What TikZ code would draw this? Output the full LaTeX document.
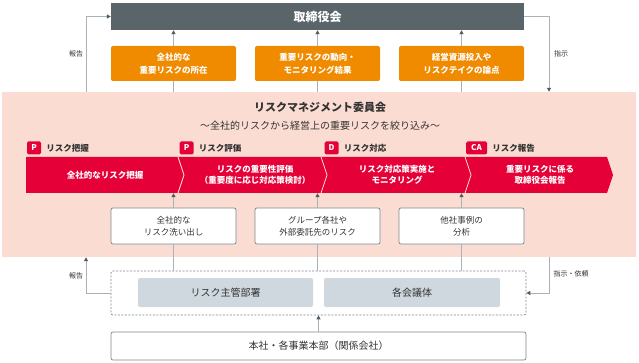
\documentclass[tikz,border=0pt]{standalone}
\usepackage{fontspec}
\setmainfont{Noto Sans CJK JP}
\usepackage{xcolor}
\usetikzlibrary{positioning, arrows.meta}

\definecolor{boardgray}{HTML}{5A6569}
\definecolor{riskorange}{HTML}{F08B00}
\definecolor{pinkbg}{HTML}{FBDCD2}
\definecolor{riskred}{HTML}{E50038}
\definecolor{deptgray}{HTML}{CED8DE}
\definecolor{linegray}{HTML}{A9B2B7}
\definecolor{tipgray}{HTML}{4F5B61}
\definecolor{boxline}{HTML}{7E878C}
\definecolor{txt}{HTML}{333333}

\begin{document}
\begin{tikzpicture}[x=1pt, y=-1pt,
  box/.style={rounded corners=2pt, minimum width=125pt, minimum height=35pt,
              align=center, inner sep=0pt, text=txt,
              font=\fontsize{8.5}{12}\selectfont},
  topic/.style={box, fill=riskorange, text=white,
                font=\fontsize{8.5}{13}\selectfont\bfseries},
  src/.style={box, draw=boxline, line width=0.7pt, fill=white, minimum height=36pt},
  dept/.style={rounded corners=2pt, fill=deptgray, minimum height=29pt,
               inner sep=0pt, text=txt, font=\fontsize{10}{12}\selectfont},
  badge/.style={rounded corners=1.5pt, fill=riskred, text=white, inner sep=0pt,
                minimum width=14pt, minimum height=13pt,
                font=\fontsize{8}{8}\selectfont\bfseries},
  phase/.style={text=txt, inner sep=0pt, font=\fontsize{8.5}{10}\selectfont\bfseries},
  stage/.style={text=white, align=center, inner sep=0pt, minimum height=36pt,
                font=\fontsize{8.5}{11}\selectfont\bfseries},
  note/.style={text=txt, inner sep=0pt, font=\fontsize{7}{8}\selectfont},
  ln/.style={draw=linegray, line width=1pt},
  arr/.style={ln, -{Triangle[length=4pt, width=4pt, color=tipgray]}}
]
  \useasboundingbox (0,0) rectangle (639,363);

  % committee background
  \node[fill=pinkbg, minimum width=634pt, minimum height=165pt, inner sep=0pt]
    (cmte) at (319,174.5) {};
  \node[text=txt, font=\fontsize{11}{12}\selectfont\bfseries] (title) at (320,107)
    {リスクマネジメント委員会};
  \node[text=txt, font=\fontsize{10}{12}\selectfont, below=2pt of title] (sub)
    {～全社的リスクから経営上の重要リスクを絞り込み～};

  % board and topics
  \node[fill=boardgray, text=white, minimum width=413pt, minimum height=27pt,
        inner sep=0pt, font=\fontsize{12}{12}\selectfont\bfseries]
    (board) at (317.5,16.5) {取締役会};
  \node[topic] (oa) at (173.5,63.5) {全社的な\\重要リスクの所在};
  \node[topic] (ob) at (317.5,63.5) {重要リスクの動向・\\モニタリング結果};
  \node[topic] (oc) at (461.5,63.5) {経営資源投入や\\リスクテイクの論点};

  % PDCA chevrons
  \foreach \a/\b [count=\i] in {26/178, 178/321, 321/465, 465/607} {
    \ifnum\i=1
      \fill[riskred] (\a,157) -- (\b,157) -- (\b+6,175) -- (\b,193) -- (\a,193) -- cycle;
    \else
      \fill[riskred] (\a,157) -- (\b,157) -- (\b+6,175) -- (\b,193) -- (\a,193)
        -- (\a+6,175) -- cycle;
      \draw[pinkbg, line width=0.8pt] (\a,157) -- (\a+6,175) -- (\a,193);
    \fi
  }
  \node[stage] (sa) at (105,175) {全社的なリスク把握};
  \node[stage] (sb) at (255,175) {リスクの重要性評価\\（重要度に応じ対応策検討）};
  \node[stage] (sc) at (397,175) {リスク対応策実施と\\モニタリング};
  \node[stage] (sd) at (540,175) {重要リスクに係る\\取締役会報告};

  \node[badge] (pa) at (34,148) {P};
  \node[phase, right=5pt of pa] {リスク把握};
  \node[badge] (pb) at (186.5,148) {P};
  \node[phase, right=5pt of pb] {リスク評価};
  \node[badge] (pc) at (331.5,148) {D};
  \node[phase, right=5pt of pc] {リスク対応};
  \node[badge, minimum width=21pt] (pd) at (476.5,148) {CA};
  \node[phase, right=5pt of pd] {リスク報告};

  % sources
  \node[src] (wa) at (173.5,226) {全社的な\\リスク洗い出し};
  \node[src] (wb) at (317.5,226) {グループ各社や\\外部委託先のリスク};
  \node[src] (wc) at (461.5,226) {他社事例の\\分析};

  % departments
  \node[draw=boxline, line width=0.7pt, dash pattern=on 2pt off 1.5pt,
        rounded corners=2pt, minimum width=415pt,
        minimum height=44pt, inner sep=0pt] (dash) at (318.5,293) {};
  \node[dept, minimum width=175pt] (dr) at (225.5,292.5) {リスク主管部署};
  \node[dept, minimum width=176pt] (dk) at (412,292.5) {各会議体};
  \node[box, draw=boxline, line width=0.7pt, fill=white, minimum width=415pt,
        minimum height=28pt, font=\fontsize{10}{12}\selectfont] (base) at (318.5,346)
    {本社・各事業本部（関係会社）};

  \coordinate (lx) at (86,0);
  \coordinate (rx) at (549,0);

  % connectors
  \foreach \n in {oa, ob, oc} {
    \draw[ln] (cmte.north -| \n.south) -- (\n.south);
    \draw[arr] (\n.north) -- (\n.north |- board.south);
  }
  \draw[arr] (wa.north) -- (wa.north |- sa.south);
  \draw[arr] (wb.north) -- (wb.north |- sb.south);
  \draw[arr] (wc.north) -- (wc.north |- sc.south);
  \foreach \n in {wa, wb, wc}
    \draw[ln] (\n.south) -- (\n.south |- dash.north);
  \draw[arr] (base.north) -- (dash.south);

  \draw[arr] (lx |- cmte.north) |- (board.west);
  \draw[arr] (board.east) -| (rx |- cmte.north);
  \draw[arr] (dash.west) -| (lx |- cmte.south);
  \draw[arr] (rx |- cmte.south) |- (dash.east);

  \node[note] (rep1) at (76,54) {報告};
  \node[note] (ins1) at (561,54) {指示};
  \node[note] (rep2) at (76,276) {報告};
  \node[note] (ins2) at (571,274) {指示・依頼};
\end{tikzpicture}
\end{document}
